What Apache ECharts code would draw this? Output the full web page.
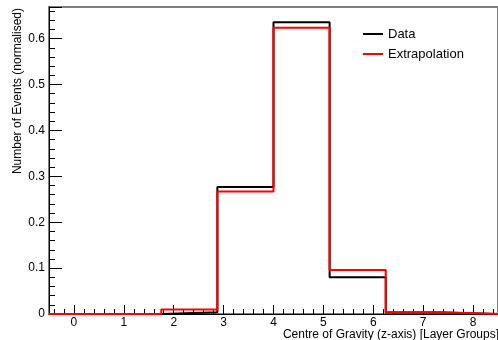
<!DOCTYPE html>
<html>
<head>
<meta charset="utf-8">
<script src="https://cdn.jsdelivr.net/npm/echarts@6/dist/echarts.min.js"></script>
<style>
  html, body { margin: 0; padding: 0; background: #fff; }
  #chart { width: 498px; height: 340px; }
</style>
</head>
<body>
<div id="chart"></div>
<script>
// bin edges along the centre-of-gravity axis
var binEdges = [-0.5, 0.625, 1.75, 2.875, 4.0, 5.125, 6.25, 7.375, 8.5];
var dataValues = [0, 0, 0.004, 0.277, 0.636, 0.080, 0.003, 0];
var extrapValues = [0, 0, 0.010, 0.267, 0.624, 0.096, 0.004, 0];
var seriesNames = ['Data', 'Extrapolation'];
var xTitle = 'Centre of Gravity (z-axis) [Layer Groups]';
var yTitle = 'Number of Events (normalised)';

var font = 'Liberation Sans, Arial, Helvetica, sans-serif';

// step points: left edge of each bin, plus closing right edge
function histPoints(vals) {
  var pts = [];
  for (var i = 0; i < vals.length; i++) pts.push([binEdges[i], vals[i]]);
  pts.push([binEdges[binEdges.length - 1], vals[vals.length - 1]]);
  return pts;
}

var chart = echarts.init(document.getElementById('chart'), null, {renderer: 'canvas'});

chart.setOption({
  animation: false,
  grid: {
    left: 49, top: 7, width: 450.4, height: 307,
    show: true, borderColor: '#808080', borderWidth: 2, backgroundColor: 'transparent'
  },
  xAxis: {
    type: 'value', min: -0.5, max: 8.5, splitNumber: 9,
    axisLine: {onZero: false, lineStyle: {color: '#000', width: 1}},
    axisTick: {inside: true, length: 9, lineStyle: {color: '#000'}},
    minorTick: {show: true, splitNumber: 5, length: 5, lineStyle: {color: '#000'}},
    splitLine: {show: false},
    axisLabel: {
      color: '#000', fontSize: 12, fontFamily: font, margin: 3,
      showMinLabel: false, showMaxLabel: false,
      formatter: function (v) { return Math.abs(v - Math.round(v)) < 1e-6 ? String(Math.round(v)) : ''; }
    }
  },
  yAxis: {
    type: 'value', min: 0, max: 0.669, splitNumber: 7,
    axisLine: {show: true, onZero: false, lineStyle: {color: '#000', width: 1}},
    axisTick: {show: true, inside: true, length: 13, lineStyle: {color: '#000'}},
    minorTick: {show: true, splitNumber: 5, length: 6, lineStyle: {color: '#000'}},
    splitLine: {show: false},
    axisLabel: {
      color: '#000', fontSize: 12, fontFamily: font, margin: 4,
      showMaxLabel: false,
      formatter: function (v) { return Math.abs(v * 10 - Math.round(v * 10)) < 1e-6 ? String(Math.round(v * 10) / 10) : ''; }
    }
  },
  legend: {
    orient: 'vertical', left: 363, top: 26, padding: 0,
    icon: 'rect', itemWidth: 20, itemHeight: 2, itemGap: 4,
    textStyle: {color: '#000', fontSize: 13, fontFamily: font, lineHeight: 16},
    data: seriesNames
  },
  graphic: [
    {
      type: 'text', x: 18, y: 8, rotation: Math.PI / 2,
      style: {text: yTitle, fill: '#000', font: '12px ' + font, align: 'right', verticalAlign: 'middle'}
    },
    {
      type: 'text', x: 499, y: 335,
      style: {text: xTitle, fill: '#000', font: '12px ' + font, align: 'right', verticalAlign: 'middle'}
    }
  ],
  series: [
    {
      name: seriesNames[0], type: 'line', step: 'end', symbol: 'none',
      lineStyle: {color: '#000', width: 2}, itemStyle: {color: '#000'},
      data: histPoints(dataValues), z: 2
    },
    {
      name: seriesNames[1], type: 'line', step: 'end', symbol: 'none',
      lineStyle: {color: '#ff0000', width: 2}, itemStyle: {color: '#ff0000'},
      data: histPoints(extrapValues), z: 3
    }
  ]
});
</script>
</body>
</html>
